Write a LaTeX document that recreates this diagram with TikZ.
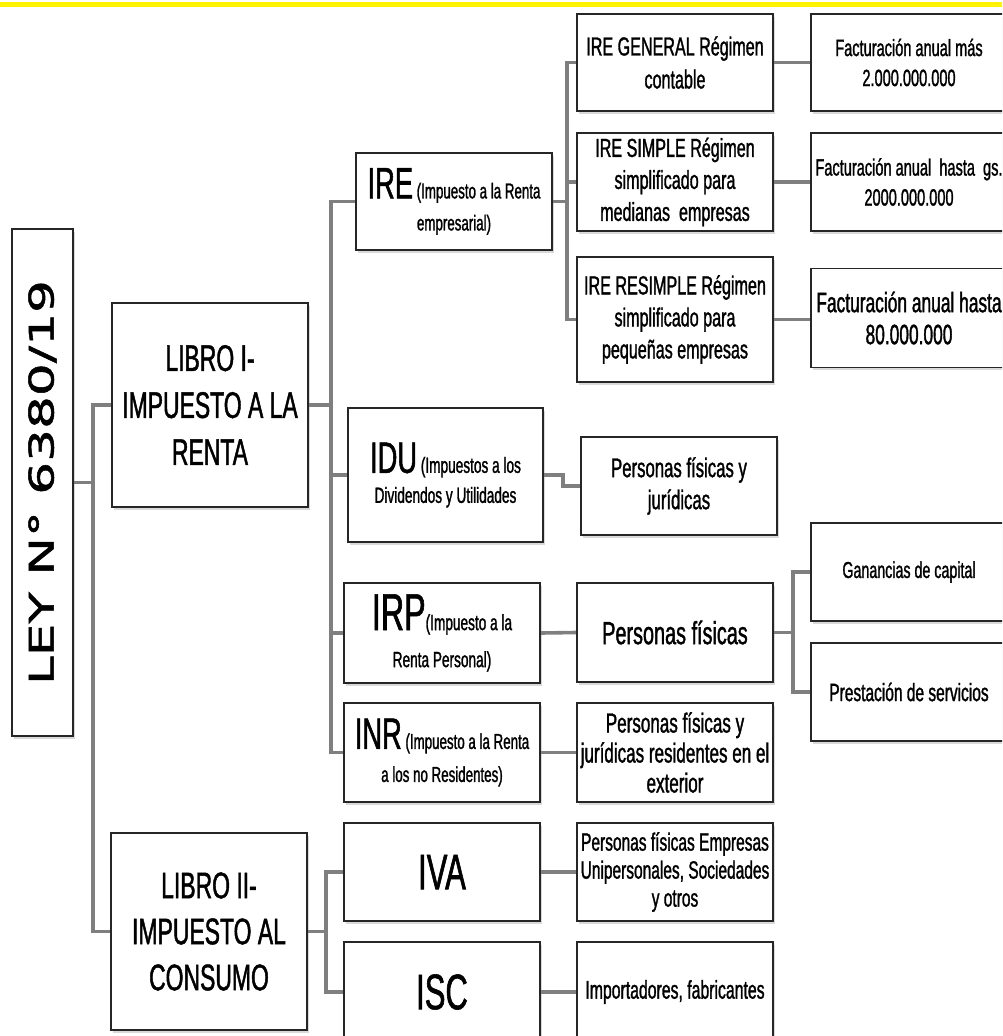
\documentclass[tikz,border=0pt]{standalone}
\usepackage{fontspec}
\usepackage{graphicx}
\setmainfont{Liberation Sans}[FakeStretch=0.62, FakeBold=1.2]
\newfontfamily\leyfont{DejaVu Sans}[FakeStretch=1.52, FakeBold=1.5]
\usetikzlibrary{shadows,backgrounds}
\newcommand{\fsz}[2]{\fontsize{#1}{#2}\selectfont}
\definecolor{conngray}{HTML}{7F7F7F}
\definecolor{boxline}{HTML}{262626}

\begin{document}
\begin{tikzpicture}[x=1pt, y=-1pt,
  box/.style={draw=boxline, line width=1.6pt, fill=white, minimum width=196pt,
    minimum height=98pt, inner sep=1pt, align=center,
    drop shadow={shadow xshift=1.5pt, shadow yshift=-2.5pt, opacity=0.3}},
  conn/.style={draw=conngray, line width=3.6pt}]
\useasboundingbox (0,0) rectangle (1002,1036);
\clip (0,0) rectangle (1002,1036);
\fill[yellow] (0,2) rectangle (1002,7);

% ley y libros
\node[box, minimum width=61pt, minimum height=507pt] (ley) at (42.5,482.5) {\rotatebox{90}{\leyfont\fsz{34}{40}LEY N° 6380/19}};
\node[box, minimum height=204pt, font=\fsz{37}{47}] (libroI) at (210,405) {LIBRO I-\\IMPUESTO A LA\\RENTA};
\node[box, minimum height=197pt, font=\fsz{37}{46}] (libroII) at (209,931.5) {LIBRO II-\\IMPUESTO AL\\CONSUMO};

% impuestos
\node[box, minimum height=97pt, font=\fsz{21.5}{32}] (ire) at (454,201.5) {{\fsz{44}{44}IRE} (Impuesto a la Renta\\empresarial)};
\node[box, minimum width=195pt, minimum height=134pt, font=\fsz{22}{30}] (idu) at (445.5,475) {{\fsz{44}{44}IDU} (Impuestos a los\\Dividendos y Utilidades};
\node[box, minimum height=100pt, font=\fsz{22}{37}] (irp) at (442,633) {{\fsz{52}{52}IRP}(Impuesto a la\\Renta Personal)};
\node[box, minimum height=99pt, font=\fsz{21.5}{33}] (inr) at (442,752.5) {{\fsz{44}{44}INR} (Impuesto a la Renta\\a los no Residentes)};
\node[box, font=\fsz{50}{50}] (iva) at (442,872) {IVA};
\node[box, minimum height=100pt, font=\fsz{50}{50}] (isc) at (442,992) {ISC};

% regimenes y contribuyentes
\node[box, minimum height=97pt, font=\fsz{26}{33}] (ireGen) at (675,62.5) {IRE GENERAL Régimen\\contable};
\node[box, font=\fsz{26}{32}] (ireSim) at (675,182) {IRE SIMPLE Régimen\\simplificado para\\medianas\ \ empresas};
\node[box, minimum height=125pt, font=\fsz{26}{32}] (ireRes) at (675,319.5) {IRE RESIMPLE Régimen\\simplificado para\\pequeñas empresas};
\node[box, font=\fsz{27}{32}] (iduPer) at (679,486) {Personas físicas y\\jurídicas};
\node[box, minimum height=99pt, font=\fsz{32}{36}] (irpPer) at (675,632.5) {Personas físicas};
\node[box, minimum height=99pt, font=\fsz{27.5}{30}] (inrPer) at (675,752.5) {Personas físicas y\\jurídicas residentes en el\\exterior};
\node[box, font=\fsz{25}{28}] (ivaPer) at (675,872) {Personas físicas Empresas\\Unipersonales, Sociedades\\y otros};
\node[box, minimum height=100pt, font=\fsz{25.5}{30}] (iscPer) at (675,992) {Importadores, fabricantes};

% columna derecha
\node[box, minimum height=97pt, font=\fsz{23.5}{30}] (factMas) at (909,62.5) {Facturación anual más\\2.000.000.000};
\node[box, font=\fsz{23.5}{30}] (factGs) at (909,182) {Facturación anual\ \ hasta\ \ gs.\\2000.000.000};
\node[box, minimum height=99pt, font=\fsz{28}{32}] (fact80) at (909,318) {Facturación anual hasta\\80.000.000};
\node[box, font=\fsz{23}{28}] (gan) at (909,572) {Ganancias de capital};
\node[box, font=\fsz{25}{28}] (pres) at (909,692) {Prestación de servicios};

\begin{scope}[on background layer]
\draw[conn] (ley.east) -- ++(19,0) |- (libroI.west);
\draw[conn] (ley.east) ++(19,0) |- (libroII.west);
\draw[conn] (libroI.east) -- ++(22,0) |- (ire.west);
\draw[conn] (libroI.east) ++(22,0) |- (idu.west);
\draw[conn] (libroI.east) ++(22,0) |- (irp.west);
\draw[conn] (libroI.east) ++(22,0) |- (inr.west);
\draw[conn] (libroII.east) -- ++(18,0) |- (iva.west);
\draw[conn] (libroII.east) ++(18,0) |- (isc.west);
\draw[conn] (ire.east) -- ++(14,0) |- (ireGen.west);
\draw[conn] (ire.east) ++(14,0) |- (ireSim.west);
\draw[conn] (ire.east) ++(14,0) |- (ireRes.west);
\draw[conn] (ireGen.east) -- (factMas.west);
\draw[conn] (ireSim.east) -- (factGs.west);
\draw[conn] (ireRes.east) -- (ireRes.east -| fact80.west);
\draw[conn] (idu.east) -- ++(19,0) |- (iduPer.west);
\draw[conn] (irp.east) -- (irpPer.west);
\draw[conn] (inr.east) -- (inrPer.west);
\draw[conn] (iva.east) -- (ivaPer.west);
\draw[conn] (isc.east) -- (iscPer.west);
\draw[conn] (irpPer.east) -- ++(19,0) |- (gan.west);
\draw[conn] (irpPer.east) ++(19,0) |- (pres.west);
\end{scope}
\end{tikzpicture}
\end{document}
